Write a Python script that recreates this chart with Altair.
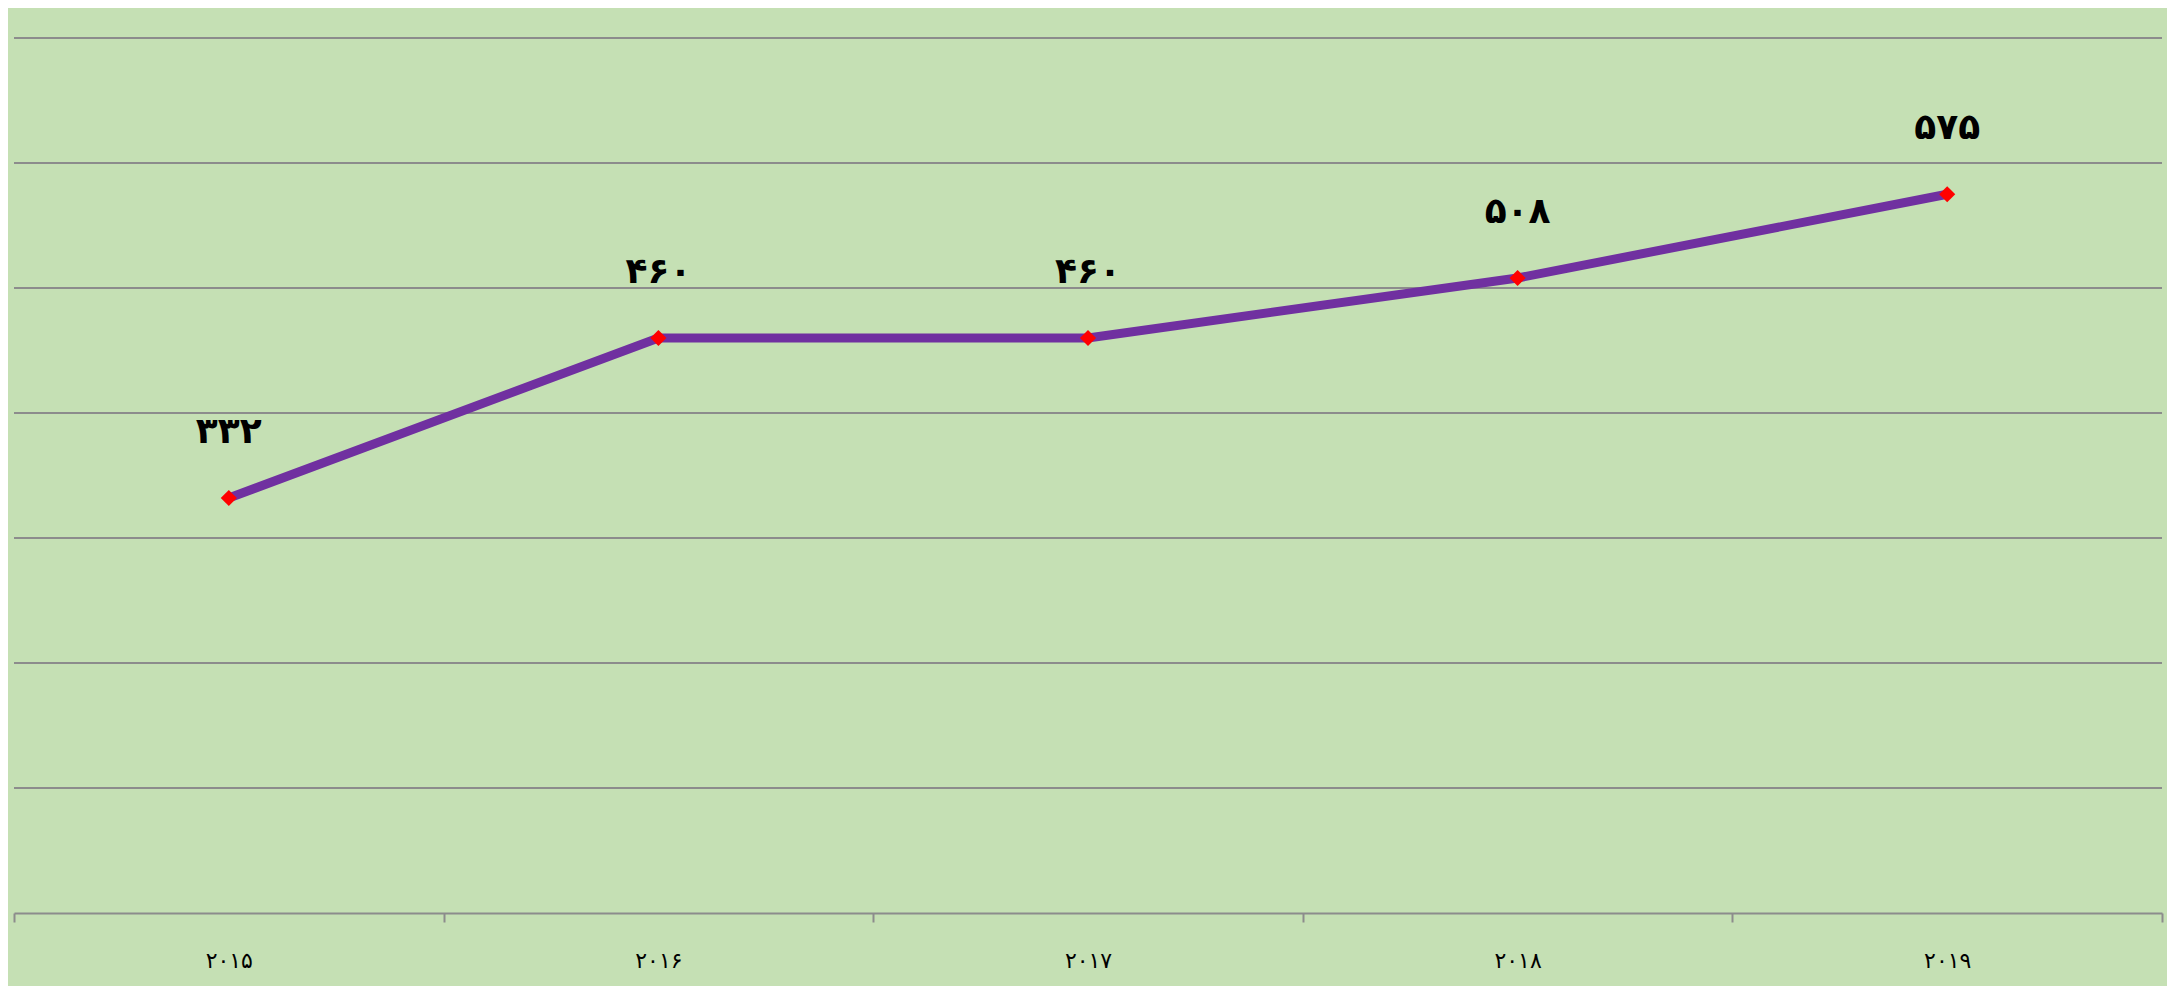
import altair as alt
import pandas as pd

years = ["۲۰۱۵", "۲۰۱۶", "۲۰۱۷", "۲۰۱۸", "۲۰۱۹"]
values = [332, 460, 460, 508, 575]
value_labels = ["۳۳۲", "۴۶۰", "۴۶۰", "۵۰۸", "۵۷۵"]
grid_values = [100, 200, 300, 400, 500, 600, 700]

df = pd.DataFrame({"year": years, "value": values, "label": value_labels})
grid_df = pd.DataFrame({"g": grid_values})

x = alt.X("year:N", sort=years,
          scale=alt.Scale(paddingInner=0, paddingOuter=0),
          axis=alt.Axis(title=None, labelAngle=0, labelFontSize=22, labelColor="black",
                        labelFont="DejaVu Sans", labelPadding=28,
                        domainColor="#8c8c8c", domainWidth=2, tickColor="#8c8c8c",
                        tickWidth=2, tickSize=9, tickBand="extent", grid=False))
yscale = alt.Scale(domain=[0, 700])
y = alt.Y("value:Q", scale=yscale, axis=None)

grid = alt.Chart(grid_df).mark_rule(color="#8c8c8c", strokeWidth=2).encode(
    y=alt.Y("g:Q", scale=yscale, axis=None))

base = alt.Chart(df)
line = base.mark_line(color="#7030A0", strokeWidth=9).encode(x=x, y=y)
pts = base.mark_point(shape="diamond", filled=True, color="#FF0000", size=260, opacity=1).encode(x=x, y=y)
txt = base.mark_text(fontSize=36, fontWeight="bold", font="DejaVu Sans", color="black",
                     baseline="middle", dy=-66).encode(x=x, y=y, text="label:N")

chart = alt.layer(grid, line, pts, txt).properties(
    width=2148, height=875,
    autosize=alt.AutoSizeParams(type="none"),
    padding={"left": 6, "top": 30, "right": 5, "bottom": 73},
    background="#C5E0B4",
).configure_view(stroke=None)

chart.save("out.html", embed_options={"renderer": "svg", "actions": False})
